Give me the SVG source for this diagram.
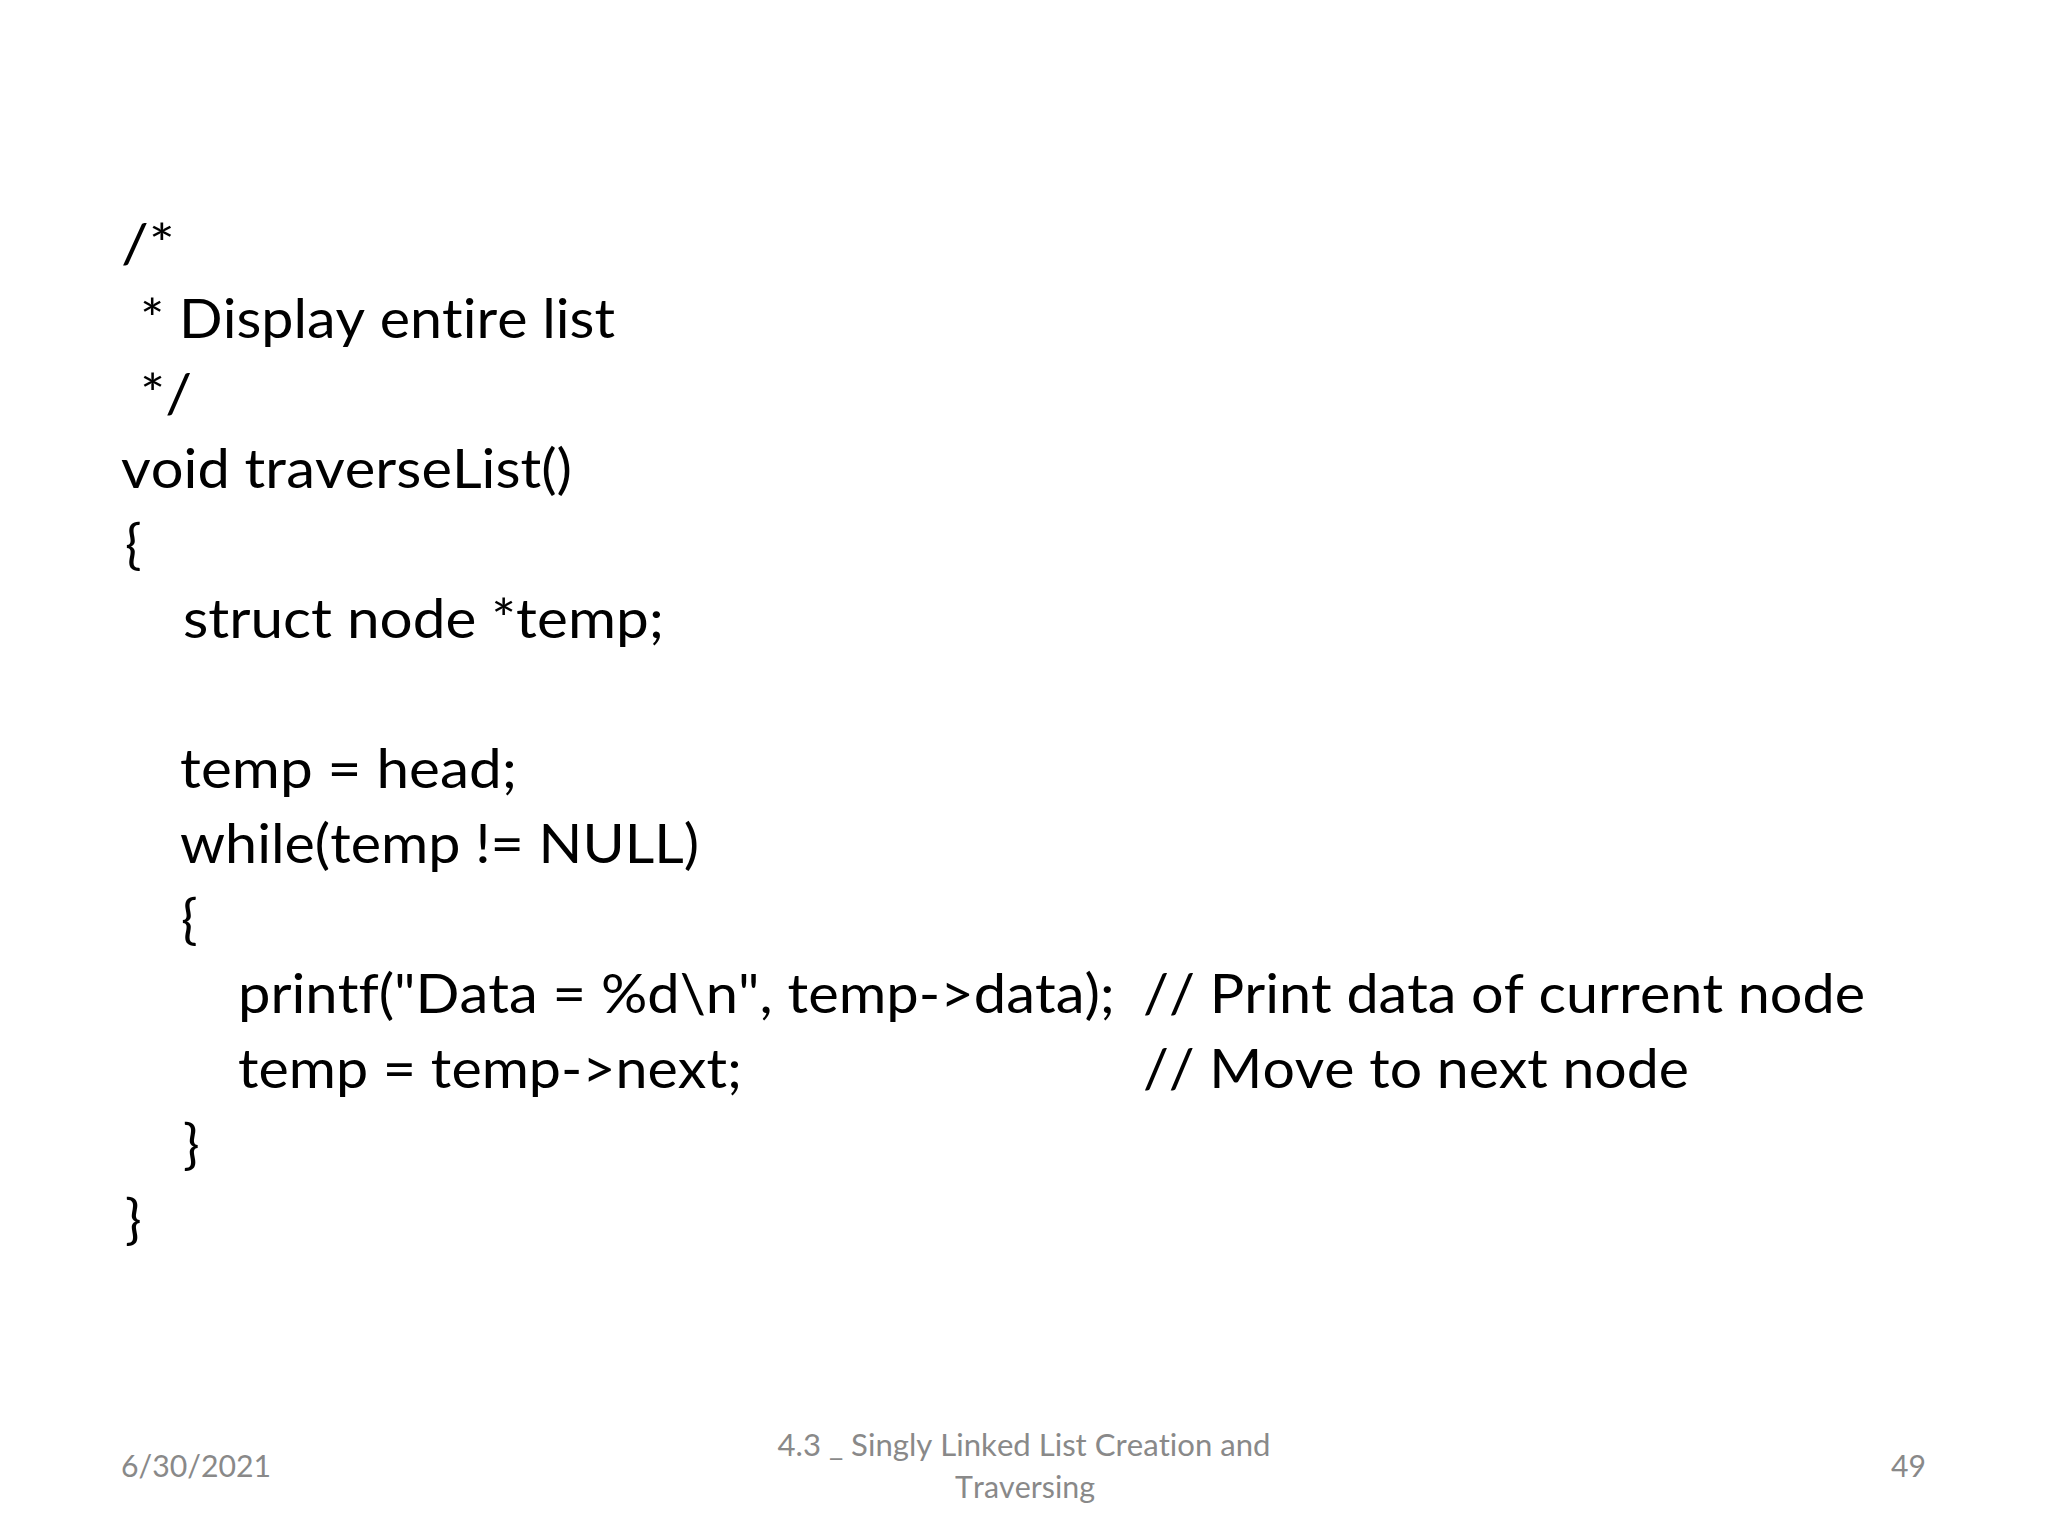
<svg xmlns="http://www.w3.org/2000/svg" width="2048" height="1536" viewBox="0 0 2048 1536">
<style>
text{font-variant-ligatures:none;font-feature-settings:"liga" 0,"clig" 0,"dlig" 0;font-kerning:none;}
.code{font-family:Lato,"Liberation Sans",sans-serif;font-size:55px;fill:#000000;}
.foot{font-family:Lato,"Liberation Sans",sans-serif;font-size:31px;fill:#898989;}
</style>
<rect x="0" y="0" width="2048" height="1536" fill="#ffffff"/>
<g id="code">
<text class="code" x="121" y="262.5" textLength="54" lengthAdjust="spacingAndGlyphs">/*</text>
<text class="code" x="140" y="337.5" textLength="475" lengthAdjust="spacingAndGlyphs">* Display entire list</text>
<text class="code" x="140" y="412.5" textLength="52" lengthAdjust="spacingAndGlyphs">*/</text>
<text class="code" x="121" y="487.5" textLength="451" lengthAdjust="spacingAndGlyphs">void traverseList()</text>
<text class="code" x="125" y="562.5">{</text>
<text class="code" x="183" y="637.5" textLength="481" lengthAdjust="spacingAndGlyphs">struct node *temp;</text>
<text class="code" x="180" y="787.5" textLength="337" lengthAdjust="spacingAndGlyphs">temp = head;</text>
<text class="code" x="180" y="862.5" textLength="519" lengthAdjust="spacingAndGlyphs">while(temp != NULL)</text>
<text class="code" x="181" y="937.5">{</text>
<text class="code" x="238" y="1012.5" textLength="877" lengthAdjust="spacingAndGlyphs">printf("Data = %d\n", temp-&gt;data);</text>
<text class="code" x="238" y="1087.5" textLength="504" lengthAdjust="spacingAndGlyphs">temp = temp-&gt;next;</text>
<text class="code" x="183" y="1162.5">}</text>
<text class="code" x="125" y="1237.5">}</text>
</g>
<g id="comments">
<text class="code" x="1143" y="1012.5" textLength="722" lengthAdjust="spacingAndGlyphs">// Print data of current node</text>
<text class="code" x="1143" y="1087.5" textLength="546" lengthAdjust="spacingAndGlyphs">// Move to next node</text>
</g>
<g id="footer">
<text class="foot" x="121" y="1477" textLength="150" lengthAdjust="spacingAndGlyphs">6/30/2021</text>
<text class="foot" x="1024" y="1456" text-anchor="middle" textLength="493" lengthAdjust="spacingAndGlyphs">4.3 _ Singly Linked List Creation and</text>
<text class="foot" x="1025" y="1498" text-anchor="middle" textLength="140" lengthAdjust="spacingAndGlyphs">Traversing</text>
<text class="foot" x="1926" y="1477" text-anchor="end" textLength="35" lengthAdjust="spacingAndGlyphs">49</text>
</g>
</svg>
